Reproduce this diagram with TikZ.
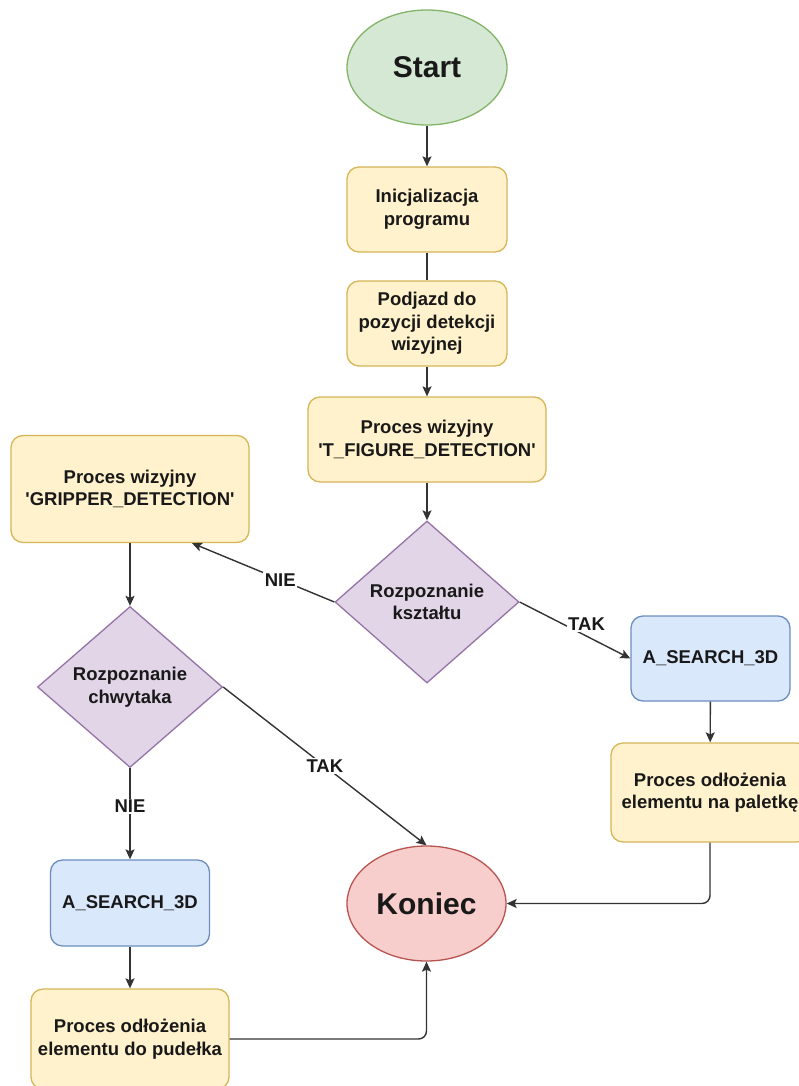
\documentclass[tikz,border=0pt]{standalone}
\usepackage{fontspec}
\setmainfont{Liberation Sans}
\usetikzlibrary{shapes.geometric,arrows.meta,calc}
\definecolor{gfill}{HTML}{D5E8D4}\definecolor{gline}{HTML}{82B366}
\definecolor{yfill}{HTML}{FFF2CC}\definecolor{yline}{HTML}{D6B656}
\definecolor{pfill}{HTML}{E1D5E7}\definecolor{pline}{HTML}{9673A6}
\definecolor{bfill}{HTML}{DAE8FC}\definecolor{bline}{HTML}{6C8EBF}
\definecolor{rfill}{HTML}{F8CECC}\definecolor{rline}{HTML}{B85450}
\definecolor{edge}{HTML}{333333}
\tikzset{
  txt/.style={font=\fontsize{18.5}{22.5}\selectfont\bfseries, align=center, text=black!90},
  ybox/.style={txt, draw=yline, fill=yfill, line width=1.3pt, rounded corners=12pt, inner sep=0pt},
  bbox/.style={txt, draw=bline, fill=bfill, line width=1.3pt, rounded corners=12pt, inner sep=0pt},
  dec/.style={txt, diamond, draw=pline, fill=pfill, line width=1.3pt, inner sep=0pt, aspect=1.14},
  term/.style={ellipse, line width=1.3pt, inner sep=0pt, font=\fontsize{30}{34}\selectfont\bfseries, text=black!90},
  conn/.style={draw=edge, line width=1.4pt},
  arr/.style={conn, -{Stealth[length=10pt,width=9pt,inset=2pt]}},
  lbl/.style={txt, fill=white, inner sep=1.5pt}
}
\begin{document}
\begin{tikzpicture}[x=1pt,y=-1pt]
\useasboundingbox (0,0) rectangle (799,1086);
\node[term, draw=gline, fill=gfill, minimum width=160, minimum height=115] (start) at (427,67.5) {Start};
\node[ybox, minimum width=160, minimum height=85] (init) at (427,209.5) {Inicjalizacja\\programu};
\node[ybox, minimum width=160, minimum height=85] (podj) at (427,323.5) {Podjazd do\\pozycji detekcji\\wizyjnej};
\node[ybox, minimum width=238, minimum height=85] (tfig) at (427,439.5) {Proces wizyjny\\\textquotesingle T\_FIGURE\_DETECTION\textquotesingle};
\node[dec, minimum width=184, minimum height=162] (d1) at (427,602) {Rozpoznanie\\kształtu};
\node[ybox, minimum width=238, minimum height=107] (grip) at (130,489) {Proces wizyjny\\\textquotesingle GRIPPER\_DETECTION\textquotesingle};
\node[dec, minimum width=185, minimum height=161] (d2) at (130,687) {Rozpoznanie\\chwytaka};
\node[bbox, minimum width=159, minimum height=85] (as1) at (710.5,658.5) {A\_SEARCH\_3D};
\node[ybox, minimum width=198, minimum height=99] (pal) at (710,792.5) {Proces odłożenia\\elementu na paletkę};
\node[bbox, minimum width=159, minimum height=86] (as2) at (130,903) {A\_SEARCH\_3D};
\node[ybox, minimum width=198, minimum height=100] (pud) at (130,1039) {Proces odłożenia\\elementu do pudełka};
\node[term, draw=rline, fill=rfill, minimum width=159, minimum height=115] (kon) at (426.5,903.5) {Koniec};
\coordinate (gripin) at ($(grip.south)+(62,0)$);

\draw[arr] (start) -- (init);
\draw[conn] (init) -- (podj);
\draw[arr] (podj) -- (tfig);
\draw[arr] (tfig) -- (d1);
\draw[arr] (d1.west) -- node[lbl, pos=0.38] {NIE} (gripin);
\draw[arr] (d1.east) -- node[lbl, pos=0.55, yshift=9pt, xshift=6pt] {TAK} (as1.west);
\draw[arr] (grip) -- (d2);
\draw[arr] (d2.east) -- node[lbl, pos=0.5] {TAK} (kon.north);
\draw[arr] (d2.south) -- node[lbl, pos=0.42] {NIE} (as2.north);
\draw[arr] (as2) -- (pud);
\draw[arr] (as1) -- (pal);
\draw[arr, rounded corners=8pt] (pud.east) -| (kon.south);
\draw[arr, rounded corners=8pt] (pal.south) |- (kon.east);
\end{tikzpicture}
\end{document}
